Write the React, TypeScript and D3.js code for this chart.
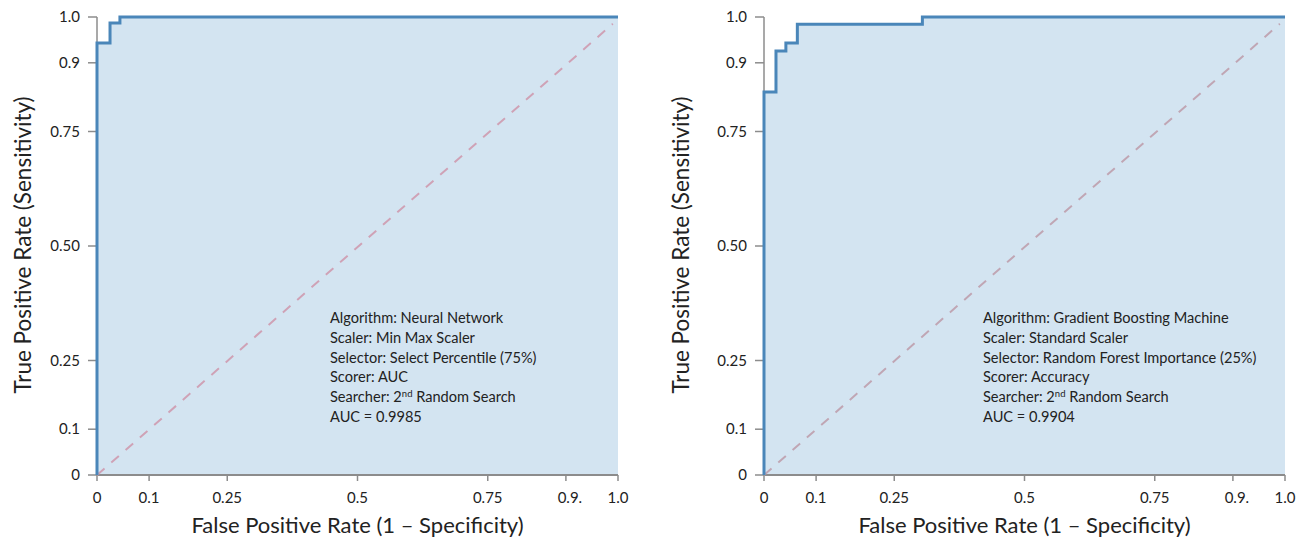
import React from "react";
import * as d3 from "d3";

// ROC points (step curve)
const nnFpr = [0, 0, 0.025, 0.044, 1];
const nnTpr = [0, 0.943, 0.987, 1, 1];
const gbmFpr = [0, 0, 0.023, 0.042, 0.064, 0.304, 1];
const gbmTpr = [0, 0.836, 0.926, 0.943, 0.984, 1, 1];

const xTicks = [0, 0.1, 0.25, 0.5, 0.75, 0.9, 1];
const xTickLabels = ["0", "0.1", "0.25", "0.5", "0.75", "0.9.", "1.0"];
const yTicks = [0, 0.1, 0.25, 0.5, 0.75, 0.9, 1];
const yTickLabels = ["0", "0.1", "0.25", "0.50", "0.75", "0.9", "1.0"];

const nnInfo = [
  "Algorithm: Neural Network",
  "Scaler: Min Max Scaler",
  "Selector: Select Percentile (75%)",
  "Scorer: AUC",
  "Searcher: 2nd Random Search",
  "AUC = 0.9985",
];
const gbmInfo = [
  "Algorithm: Gradient Boosting Machine",
  "Scaler: Standard Scaler",
  "Selector: Random Forest Importance (25%)",
  "Scorer: Accuracy",
  "Searcher: 2nd Random Search",
  "AUC = 0.9904",
];

const FONT = "Lato, 'Open Sans', sans-serif";

type PanelProps = {
  x0: number;
  x1: number;
  fpr: number[];
  tpr: number[];
  info: string[];
  infoX: number;
  dashColor: string;
  yTitleX: number;
};

const Panel = ({ x0, x1, fpr, tpr, info, infoX, dashColor, yTitleX }: PanelProps) => {
  const top = 17;
  const bottom = 475;
  const x = d3.scaleLinear().domain([0, 1]).range([x0, x1]);
  const y = d3.scaleLinear().domain([0, 1]).range([bottom, top]);
  const pts = fpr.map((f, i) => [f, tpr[i]] as [number, number]);

  const line = d3
    .line<[number, number]>()
    .x((d) => x(d[0]))
    .y((d) => y(d[1]))
    .curve(d3.curveStepAfter);
  const area = d3
    .area<[number, number]>()
    .x((d) => x(d[0]))
    .y0(y(0))
    .y1((d) => y(d[1]))
    .curve(d3.curveStepAfter);

  const axisColor = "#8c8c8c";

  return (
    <g>
      <path d={area(pts) || ""} fill="#d3e4f1" />
      {/* axes */}
      <line x1={x0} x2={x0} y1={top} y2={bottom} stroke={axisColor} strokeWidth={1.5} />
      <line x1={x0} x2={x1} y1={bottom} y2={bottom} stroke={axisColor} strokeWidth={2} />
      {yTicks.map((t, i) => (
        <g key={"y" + i}>
          <line x1={x0 - 9} x2={x0} y1={y(t)} y2={y(t)} stroke={axisColor} strokeWidth={1.5} />
          <text
            x={x0 - 17}
            y={y(t)}
            dy="0.35em"
            textAnchor="end"
            fontSize={15}
            fontFamily={FONT}
            fill="#222"
          >
            {yTickLabels[i]}
          </text>
        </g>
      ))}
      {xTicks.map((t, i) => (
        <g key={"x" + i}>
          <line x1={x(t)} x2={x(t)} y1={bottom} y2={bottom + 6} stroke={axisColor} strokeWidth={1.5} />
          <text
            x={x(t) + (xTickLabels[i].endsWith(".") && i !== 0 ? 4 : 0)}
            y={503}
            textAnchor="middle"
            fontSize={15}
            fontFamily={FONT}
            fill="#222"
          >
            {xTickLabels[i]}
          </text>
        </g>
      ))}
      {/* chance line */}
      <line
        x1={x(0)}
        y1={y(0)}
        x2={x(0.99)}
        y2={y(0.985)}
        stroke={dashColor}
        strokeWidth={2}
        strokeDasharray="10,9"
      />
      <path d={line(pts) || ""} fill="none" stroke="#4a86b9" strokeWidth={3} />
      {/* info box */}
      {info.map((s, i) => {
        const m = s.match(/^(Searcher: 2)(nd)(.*)$/);
        return (
          <text key={i} x={infoX} y={323 + i * 19.8} fontSize={14.6} fontFamily={FONT} fill="#222">
            {m ? (
              <>
                {m[1]}
                <tspan fontSize={9.5} dy={-5.5}>
                  {m[2]}
                </tspan>
                <tspan dy={5.5}>{m[3]}</tspan>
              </>
            ) : (
              s
            )}
          </text>
        );
      })}
      {/* titles */}
      <text
        x={(x0 + x1) / 2}
        y={533}
        textAnchor="middle"
        fontSize={22}
        fontFamily={FONT}
        fill="#222"
      >
        False Positive Rate (1 – Specificity)
      </text>
      <text
        transform={`translate(${yTitleX},${245}) rotate(-90)`}
        textAnchor="middle"
        fontSize={22.5}
        fontFamily={FONT}
        fill="#222"
      >
        True Positive Rate (Sensitivity)
      </text>
    </g>
  );
};

export default function App() {
  return (
    <svg
      width={1311}
      height={540}
      style={{ position: "absolute", left: 0, top: 0, background: "#fff" }}
    >
      <Panel
        x0={97}
        x1={618}
        fpr={nnFpr}
        tpr={nnTpr}
        info={nnInfo}
        infoX={330}
        dashColor="#cfa2b6"
        yTitleX={31}
      />
      <Panel
        x0={764}
        x1={1285}
        fpr={gbmFpr}
        tpr={gbmTpr}
        info={gbmInfo}
        infoX={983}
        dashColor="#c0a6b4"
        yTitleX={689}
      />
    </svg>
  );
}
